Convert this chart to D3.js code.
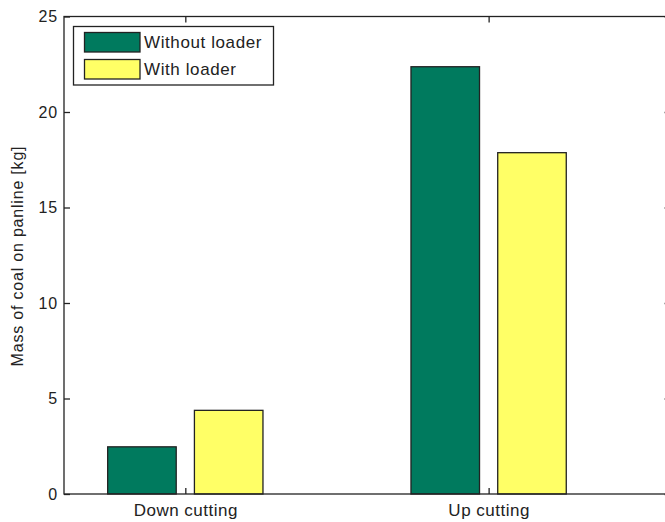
<!DOCTYPE html>
<html><head><meta charset="utf-8">
<script src="https://cdn.jsdelivr.net/npm/d3@7"></script>
<style>body{margin:0;background:#fff;} text{font-family:"Liberation Sans",Arial,sans-serif;fill:#222;}</style>
</head><body>
<svg id="c" width="665" height="522"></svg>
<script>
const categories = ["Down cutting", "Up cutting"];
const seriesNames = ["Without loader", "With loader"];
const withoutLoader = [2.47, 22.37];
const withLoader = [4.38, 17.87];
const yTicks = [0, 5, 10, 15, 20, 25];
const colors = ["#007A5E", "#FFFF66"];

(function () {
const svg = d3.select("#c");
const mL = 64, mR = 670.6, mT = 16.5, mB = 494;
const x = d3.scaleLinear().domain([0.6, 2.6]).range([mL, mR]);
const y = d3.scaleLinear().domain([0, 25]).range([mB, mT]);
const barW = 0.226, off = 0.143;
const series = [withoutLoader, withLoader];

series.forEach((vals, si) => {
  svg.selectAll(null).data(vals).enter().append("rect")
    .attr("x", (d, i) => x(i + 1 + (si === 0 ? -off : off)) - (x(barW) - x(0)) / 2)
    .attr("width", x(barW) - x(0))
    .attr("y", d => y(d))
    .attr("height", d => y(0) - y(d))
    .attr("fill", colors[si]).attr("stroke", "#222").attr("stroke-width", 1.3);
});

svg.append("rect").attr("x", mL).attr("y", mT).attr("width", mR - mL).attr("height", mB - mT)
  .attr("fill", "none").attr("stroke", "#222").attr("stroke-width", 1.3);

const yAxis = d3.axisLeft(y).tickValues(yTicks).tickSize(-6).tickPadding(10).tickFormat(d3.format("d"));
const gy = svg.append("g").attr("transform", `translate(${mL},0)`).call(yAxis);
gy.select(".domain").remove();
gy.selectAll("text").style("font-size", "16px").style("letter-spacing", "0.8px").attr("fill", "#222").attr("x", -6);
gy.selectAll("line").attr("stroke", "#222").attr("stroke-width", 1.3);
const gyr = svg.append("g").attr("transform", `translate(${mR},0)`).call(d3.axisRight(y).tickValues(yTicks).tickSize(-6).tickFormat(""));
gyr.select(".domain").remove();
gyr.selectAll("line").attr("stroke", "#222").attr("stroke-width", 1.3);

const xAxis = d3.axisBottom(x).tickValues([1, 2]).tickSize(-6).tickPadding(10).tickFormat((d) => categories[d - 1]);
const gx = svg.append("g").attr("transform", `translate(0,${mB})`).call(xAxis);
gx.select(".domain").remove();
gx.selectAll("text").style("font-size", "17px").attr("fill", "#222").attr("y", 10).style("letter-spacing", "0.5px");
gx.selectAll("line").attr("stroke", "#222").attr("stroke-width", 1.3);
const gxt = svg.append("g").attr("transform", `translate(0,${mT})`).call(d3.axisTop(x).tickValues([1, 2]).tickSize(-6).tickFormat(""));
gxt.select(".domain").remove();
gxt.selectAll("line").attr("stroke", "#222").attr("stroke-width", 1.3);

svg.append("text").attr("transform", `translate(23,256) rotate(-90)`)
  .attr("text-anchor", "middle").style("font-size", "16px").style("letter-spacing", "0.8px")
  .text("Mass of coal on panline [kg]");

const lg = svg.append("g");
lg.append("rect").attr("x", 73.5).attr("y", 26.5).attr("width", 200).attr("height", 58.5)
  .attr("fill", "#fff").attr("stroke", "#222").attr("stroke-width", 1.3);
seriesNames.forEach((n, i) => {
  lg.append("rect").attr("x", 84.5).attr("y", 32.5 + i * 27).attr("width", 55.5).attr("height", 19.5)
    .attr("fill", colors[i]).attr("stroke", "#222").attr("stroke-width", 1.3);
  lg.append("text").attr("x", 144).attr("y", 48 + i * 27).style("font-size", "17px").style("letter-spacing", "0.6px").text(n);
});
})();
</script>
</body></html>
